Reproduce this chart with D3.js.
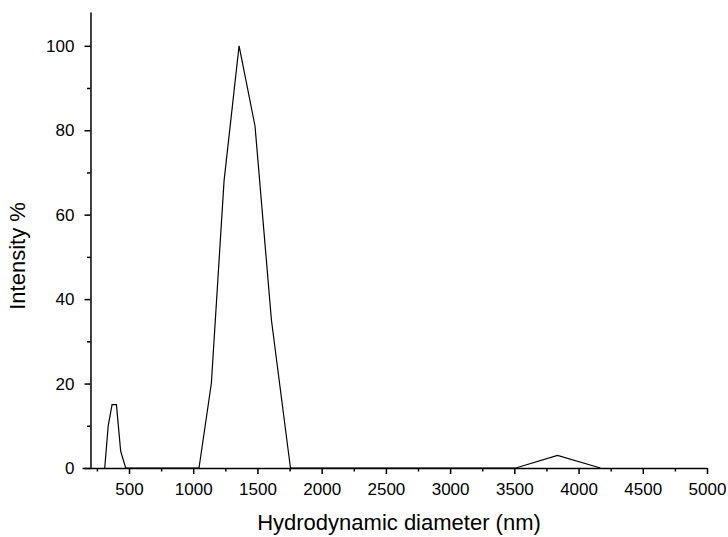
<!DOCTYPE html>
<html>
<head>
<meta charset="utf-8">
<script src="https://cdn.jsdelivr.net/npm/d3@7"></script>
<style>
  html, body { margin: 0; padding: 0; background: #fff; }
  svg { display: block; }
  text { font-family: "Liberation Sans", Arial, sans-serif; fill: #000; }
</style>
</head>
<body>
<svg id="chart" width="728" height="537"></svg>
<script>
// Data (diameter in nm, intensity %)
const diameters = [311, 338, 368, 402, 435, 474, 1045, 1141, 1240, 1357, 1481, 1609, 1757, 3511, 3836, 4170];
const intensities = [0, 10, 15, 15, 4, 0, 0, 20, 68, 100, 81, 35, 0, 0, 3, 0];
const xMajorTicks = [500, 1000, 1500, 2000, 2500, 3000, 3500, 4000, 4500, 5000];
const xMinorTicks = [250, 750, 1250, 1750, 2250, 2750, 3250, 3750, 4250, 4750];
const yMajorTicks = [0, 20, 40, 60, 80, 100];
const yMinorTicks = [10, 30, 50, 70, 90];
const xTitle = "Hydrodynamic diameter (nm)";
const yTitle = "Intensity %";

const svg = d3.select("#chart");
const x = d3.scaleLinear().domain([134, 5000]).range([82, 707]);
const y = d3.scaleLinear().domain([0, 108]).range([468, 12]);
const yAxisX = x(200);

// X axis
const gx = svg.append("g").attr("transform", `translate(0,${y(0)})`);
gx.call(d3.axisBottom(x).tickValues(xMajorTicks).tickFormat(d3.format("d"))
  .tickSize(6).tickSizeOuter(0).tickPadding(9));
gx.append("g").call(d3.axisBottom(x).tickValues(xMinorTicks).tickFormat("")
  .tickSize(3.5).tickSizeOuter(0)).select(".domain").remove();

// Y axis
const gy = svg.append("g").attr("transform", `translate(${yAxisX},0)`);
gy.call(d3.axisLeft(y).tickValues(yMajorTicks).tickFormat(d3.format("d"))
  .tickSize(6).tickSizeOuter(0).tickPadding(10));
gy.append("g").call(d3.axisLeft(y).tickValues(yMinorTicks).tickFormat("")
  .tickSize(3.5).tickSizeOuter(0)).select(".domain").remove();

svg.selectAll(".domain, .tick line").attr("stroke", "#000").attr("stroke-width", 1.5);
svg.selectAll(".tick text").attr("font-size", 17).attr("font-family", "Liberation Sans, Arial, sans-serif");

// Line
const data = diameters.map((d, i) => ({ d: d, v: intensities[i] }));
svg.append("path")
  .datum(data)
  .attr("fill", "none")
  .attr("stroke", "#000")
  .attr("stroke-width", 1.2)
  .attr("stroke-linejoin", "miter")
  .attr("d", d3.line().x(p => x(p.d)).y(p => y(p.v)));

// Titles
svg.append("text")
  .attr("x", 399).attr("y", 530)
  .attr("text-anchor", "middle")
  .attr("font-size", 22)
  .text(xTitle);
svg.append("text")
  .attr("transform", "translate(25,256) rotate(-90)")
  .attr("text-anchor", "middle")
  .attr("font-size", 22)
  .text(yTitle);
</script>
</body>
</html>
